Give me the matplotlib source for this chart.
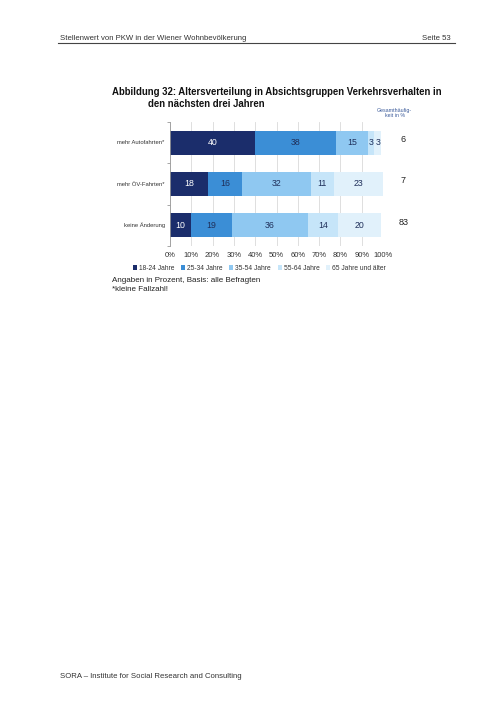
import matplotlib
matplotlib.use("Agg")
import matplotlib.pyplot as plt
import numpy as np

plt.rcParams['font.family'] = ['Liberation Sans', 'DejaVu Sans']

categories = ["mehr Autofahrten*", "mehr ÖV-Fahrten*", "keine Änderung"]
age_groups = ["18-24 Jahre", "25-34 Jahre", "35-54 Jahre", "55-64 Jahre", "65 Jahre und älter"]
age_18_24 = [40, 18, 10]
age_25_34 = [38, 16, 19]
age_35_54 = [15, 32, 36]
age_55_64 = [3, 11, 14]
age_65_plus = [3, 23, 20]
totals = [6, 7, 83]
xticks = [0, 10, 20, 30, 40, 50, 60, 70, 80, 90, 100]

colors = ["#1b2d6b", "#3b8ed6", "#8fc8f1", "#c6e5f9", "#e1f1fb"]
text_colors = ["white", "#1f2f5a", "#1f2f5a", "#1f2f5a", "#1f2f5a"]

W, H = 504, 712
fig = plt.figure(figsize=(W / 100, H / 100), dpi=100)

# page header / footer
fig.text(60 / W, 1 - 38 / H, "Stellenwert von PKW in der Wiener Wohnbevölkerung",
         fontsize=5.6, color="#333333", va="center")
fig.text(451 / W, 1 - 38 / H, "Seite 53", fontsize=5.6, color="#333333",
         va="center", ha="right")
fig.add_artist(plt.Line2D([58 / W, 455 / W], [1 - 43 / H, 1 - 43 / H],
                          color="#444444", lw=0.8))
fig.text(60 / W, 1 - 677 / H, "SORA \u2013 Institute for Social Research and Consulting",
         fontsize=5.6, color="#333333", va="center")

# title
fig.text(112 / W, 1 - 92 / H,
         "Abbildung 32: Altersverteilung in Absichtsgruppen Verkehrsverhalten in",
         fontsize=6.9, weight="bold", va="center", color="#111111")
fig.text(148 / W, 1 - 104 / H, "den nächsten drei Jahren",
         fontsize=6.9, weight="bold", va="center", color="#111111")

ax = fig.add_axes([170 / W, 1 - 246 / H, 213 / W, 124 / H])
series = [age_18_24, age_25_34, age_35_54, age_55_64, age_65_plus]
y = np.arange(len(categories))
left = np.zeros(len(categories))
for i, vals in enumerate(series):
    vals = np.array(vals)
    ax.barh(y, vals, left=left, height=0.58, color=colors[i], label=age_groups[i], zorder=2)
    for j, v in enumerate(vals):
        ax.text(left[j] + v / 2, y[j], str(v), ha="center", va="center",
                fontsize=6.3, color=text_colors[i], zorder=3)
    left += vals

ax.set_xlim(0, 100)
ax.set_ylim(2.5, -0.5)
ax.set_xticks(xticks)
ax.set_xticklabels(["{}%".format(t) for t in xticks], fontsize=5.5, color="#333333")
ax.set_yticks([-0.5, 0.5, 1.5, 2.5])
ax.set_yticklabels([])
ax.tick_params(axis="y", length=2, color="#999999", width=0.6)
ax.tick_params(axis="x", length=0, pad=4)
for j, c in enumerate(categories):
    ax.text(-2.5, y[j], c, ha="right", va="center", fontsize=4.2, color="#333333")
ax.grid(axis="x", color="#d9d9d9", lw=0.6, zorder=0)
for s in ["top", "right", "bottom"]:
    ax.spines[s].set_visible(False)
ax.spines["left"].set_color("#999999")
ax.spines["left"].set_linewidth(0.6)

# totals column
ax.text(105.5, -0.72, "Gesamthäufig-\nkeit in %", ha="center", va="center",
        fontsize=3.8, color="#3a5a9a", linespacing=1.0)
for j, t in enumerate(totals):
    ax.text(109.5, y[j] - 0.08, str(t), ha="center", va="center", fontsize=6.5, color="#222222")

leg = ax.legend(loc="upper center", bbox_to_anchor=(0.42, -0.13), ncol=5, frameon=False,
                fontsize=4.8, handlelength=0.6, handleheight=0.6, handletextpad=0.3,
                columnspacing=1.0, borderaxespad=0)
for t in leg.get_texts():
    t.set_color("#333333")

fig.text(112 / W, 1 - 280 / H, "Angaben in Prozent, Basis: alle Befragten",
         fontsize=5.8, va="center", color="#222222")
fig.text(112 / W, 1 - 290 / H, "*kleine Fallzahl!",
         fontsize=5.8, va="center", color="#222222")

fig.savefig("out.png", dpi=100)
